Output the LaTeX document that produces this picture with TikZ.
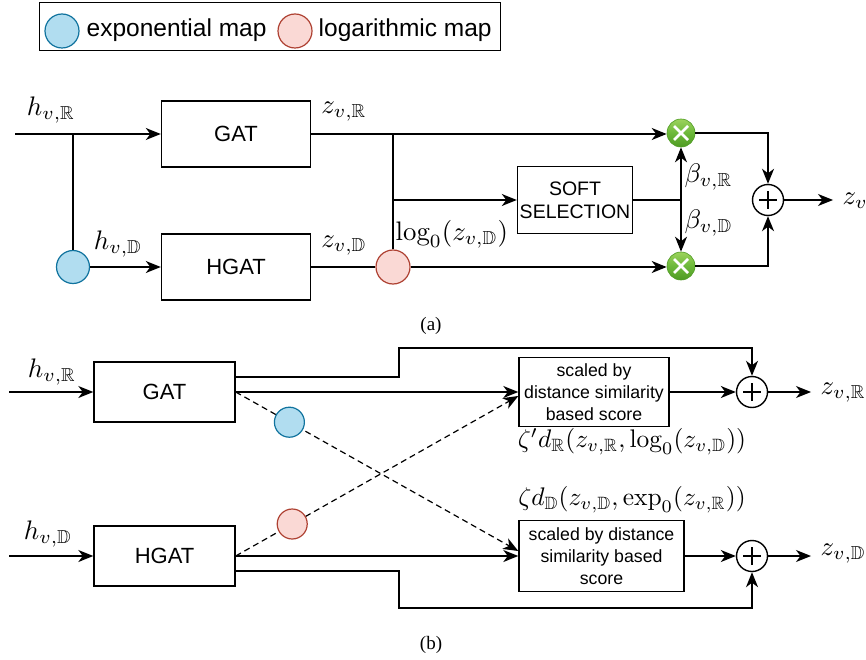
\documentclass[tikz,border=0pt]{standalone}
\usepackage{amssymb}
\usepackage{graphicx}
\usepackage{fontspec}
\setsansfont{Liberation Sans}
\newfontfamily\capfont{Liberation Serif}
\usetikzlibrary{arrows.meta}
\newcommand{\mlabtext}[1]{\scalebox{2.68}{$#1$}}
\definecolor{bluefill}{HTML}{B1DDF0}
\definecolor{bluestroke}{HTML}{10739E}
\definecolor{redfill}{HTML}{FAD9D5}
\definecolor{redstroke}{HTML}{AE4132}
\definecolor{xgreentop}{HTML}{9CD35C}
\definecolor{xgreenbot}{HTML}{4E9B22}
\definecolor{xgreenmid}{HTML}{6CB83A}
\begin{document}
\begin{tikzpicture}[x=1pt,y=-1pt,line width=1.4pt,
  >={Stealth[length=15pt,width=12pt,inset=4.5pt]},
  box/.style={draw,line width=1.4pt,inner sep=0pt,align=center,font=\sffamily\fontsize{22}{26}\selectfont},
  smallbox/.style={box,font=\sffamily\fontsize{17.7}{21.7}\selectfont},
  bluecirc/.style={circle,draw=bluestroke,fill=bluefill,line width=1.2pt,minimum size=#1,inner sep=0pt},
  redcirc/.style={circle,draw=redstroke,fill=redfill,line width=1.2pt,minimum size=#1,inner sep=0pt},
  xcirc/.style={circle,minimum size=28pt,inner sep=0pt,draw=xgreenbot,line width=0.6pt,
    top color=xgreentop,bottom color=xgreenbot,middle color=xgreenmid,
    path picture={\draw[white,line width=2.6pt] ([shift={(-7,-7)}]path picture bounding box.center) -- ++(14,14)
      ([shift={(-7,7)}]path picture bounding box.center) -- ++(14,-14);}},
  plus/.style={circle,draw,line width=1.4pt,minimum size=31pt,inner sep=0pt,
    path picture={\draw[line width=1.3pt] ([xshift=-9pt]path picture bounding box.center) -- ++(18,0)
      ([yshift=-9pt]path picture bounding box.center) -- ++(0,-18);}},
  mlab/.style={inner sep=0pt,font=\fontsize{10}{12}\selectfont},
  legtext/.style={inner sep=0pt,anchor=west,font=\sffamily\fontsize{24.5}{28}\selectfont},
  captext/.style={inner sep=0pt,font=\capfont\fontsize{19}{22}\selectfont},
  dashline/.style={dash pattern=on 6pt off 4pt,line width=1.2pt}
]
\useasboundingbox (0,0) rectangle (866,660);

% legend
\node[draw,line width=1.3pt,minimum width=461pt,minimum height=48pt,inner sep=0pt,anchor=north west] (legend) at (39,2) {};
\node[bluecirc=34pt] (lgb) at (62,31) {};
\node[legtext] (lgbt) at (86,30) {exponential map};
\node[redcirc=34pt] (lgr) at (295,31) {};
\node[legtext] (lgrt) at (318,30) {logarithmic map};

% ---------- (a) ----------
\node[box,minimum width=149pt,minimum height=66pt] (gat) at (236,134) {GAT};
\node[box,minimum width=149pt,minimum height=66pt] (hgat) at (236,267) {HGAT};
\coordinate (inR) at (15,134);
\coordinate (j1) at (73,134);
\node[bluecirc=33pt] (bc) at (73,267) {};
\draw[->] (inR) -- (gat.west);
\draw (j1) -- (bc.north);
\draw[->] (bc.east) -- (hgat.west);
\node[redcirc=34pt] (rc) at (393,267) {};
\draw (hgat.east) -- (rc.west);
\node[xcirc] (x1) at (681,133) {};
\node[xcirc] (x2) at (681,266) {};
\draw[->] (gat.east) -- (gat.east -| x1.west);
\coordinate (j2) at (393,134);
\draw (j2) -- (rc.north);
\node[box,minimum width=115pt,minimum height=67pt,font=\sffamily\fontsize{19.5}{23}\selectfont] (soft) at (575,200) {SOFT\\SELECTION};
\coordinate (j3) at (393,200);
\draw[->] (j3) -- (soft.west);
\coordinate (j4) at (681,200);
\draw (soft.east) -- (j4);
\draw[->] (j4) -- (x1.south);
\draw[->] (j4) -- (x2.north);
\draw[->] (rc.east) -- (rc.east -| x2.west);
\node[plus] (p) at (768,200) {};
\draw[->] (x1.east) -| (p.north);
\draw[->] (x2.east) -| (p.south);
\node[mlab,anchor=west] (zv) at (842,201) {\mlabtext{z_v}};
\coordinate (zvend) at (833,200);
\draw[->] (p.east) -- (zvend);

\node[mlab] (lhR) at (51,110) {\mlabtext{h_{v,\mathbb{R}}}};
\node[mlab] (lhD) at (118,244) {\mlabtext{h_{v,\mathbb{D}}}};
\node[mlab] (lzR) at (344,112) {\mlabtext{z_{v,\mathbb{R}}}};
\node[mlab] (lzD) at (344,246) {\mlabtext{z_{v,\mathbb{D}}}};
\node[mlab,anchor=west] (llog) at (395,234) {\mlabtext{\log_0(z_{v,\mathbb{D}})}};
\node[mlab,anchor=west] (lbR) at (684,177) {\mlabtext{\beta_{v,\mathbb{R}}}};
\node[mlab,anchor=west] (lbD) at (684,223) {\mlabtext{\beta_{v,\mathbb{D}}}};
\node[captext] (capa) at (431,326) {(a)};

% ---------- (b) ----------
\node[box,minimum width=141pt,minimum height=60pt] (gat2) at (164.5,392) {GAT};
\node[box,minimum width=141pt,minimum height=60pt] (hgat2) at (164.5,556) {HGAT};
\coordinate (inR2) at (9,392);
\coordinate (inD2) at (9,556);
\draw[->] (inR2) -- (gat2.west);
\draw[->] (inD2) -- (hgat2.west);
\node[mlab] (lhR2) at (52,372) {\mlabtext{h_{v,\mathbb{R}}}};
\node[mlab] (lhD2) at (48,534) {\mlabtext{h_{v,\mathbb{D}}}};

\node[smallbox,minimum width=150pt,minimum height=69pt] (s1) at (594,392) {scaled by\\distance similarity\\based score};
\node[smallbox,minimum width=165pt,minimum height=71pt] (s2) at (601.5,556) {scaled by distance\\similarity based\\score};
\node[plus] (p1) at (752,392) {};
\node[plus] (p2) at (752,556) {};
\draw[->] (gat2.east) -- (s1.west);
\draw[->] (hgat2.east) -- (s2.west);
\draw[->] (s1.east) -- (p1.west);
\draw[->] (s2.east) -- (p2.west);
\node[mlab,anchor=west] (lz1) at (820,393) {\mlabtext{z_{v,\mathbb{R}}}};
\node[mlab,anchor=west] (lz2) at (820,554) {\mlabtext{z_{v,\mathbb{D}}}};
\coordinate (z1end) at (811,392);
\coordinate (z2end) at (811,556);
\draw[->] (p1.east) -- (z1end);
\draw[->] (p2.east) -- (z2end);
\coordinate (b1) at (399,348);
\coordinate (b2) at (399,608);
\draw[->] ([yshift=15pt]gat2.east) -| (b1) -| (p1.north);
\draw[->] ([yshift=-15pt]hgat2.east) -| (b2) -| (p2.south);

\draw[dashline,->] (gat2.east) -- node[bluecirc=30pt,pos=0.19,solid] (bc2) {} ([yshift=5pt]s2.west);
\draw[dashline,->] (hgat2.east) -- node[redcirc=30pt,pos=0.2,solid] (rc2) {} ([yshift=-4pt]s1.west);

\node[mlab] (lzeta1) at (632,442) {\scalebox{0.95}{\mlabtext{\zeta' d_{\mathbb{R}}(z_{v,\mathbb{R}},\log_0(z_{v,\mathbb{D}}))}}};
\node[mlab] (lzeta2) at (632,500) {\scalebox{0.95}{\mlabtext{\zeta d_{\mathbb{D}}(z_{v,\mathbb{D}},\exp_0(z_{v,\mathbb{R}}))}}};
\node[captext] (capb) at (431,645) {(b)};
\end{tikzpicture}
\end{document}
